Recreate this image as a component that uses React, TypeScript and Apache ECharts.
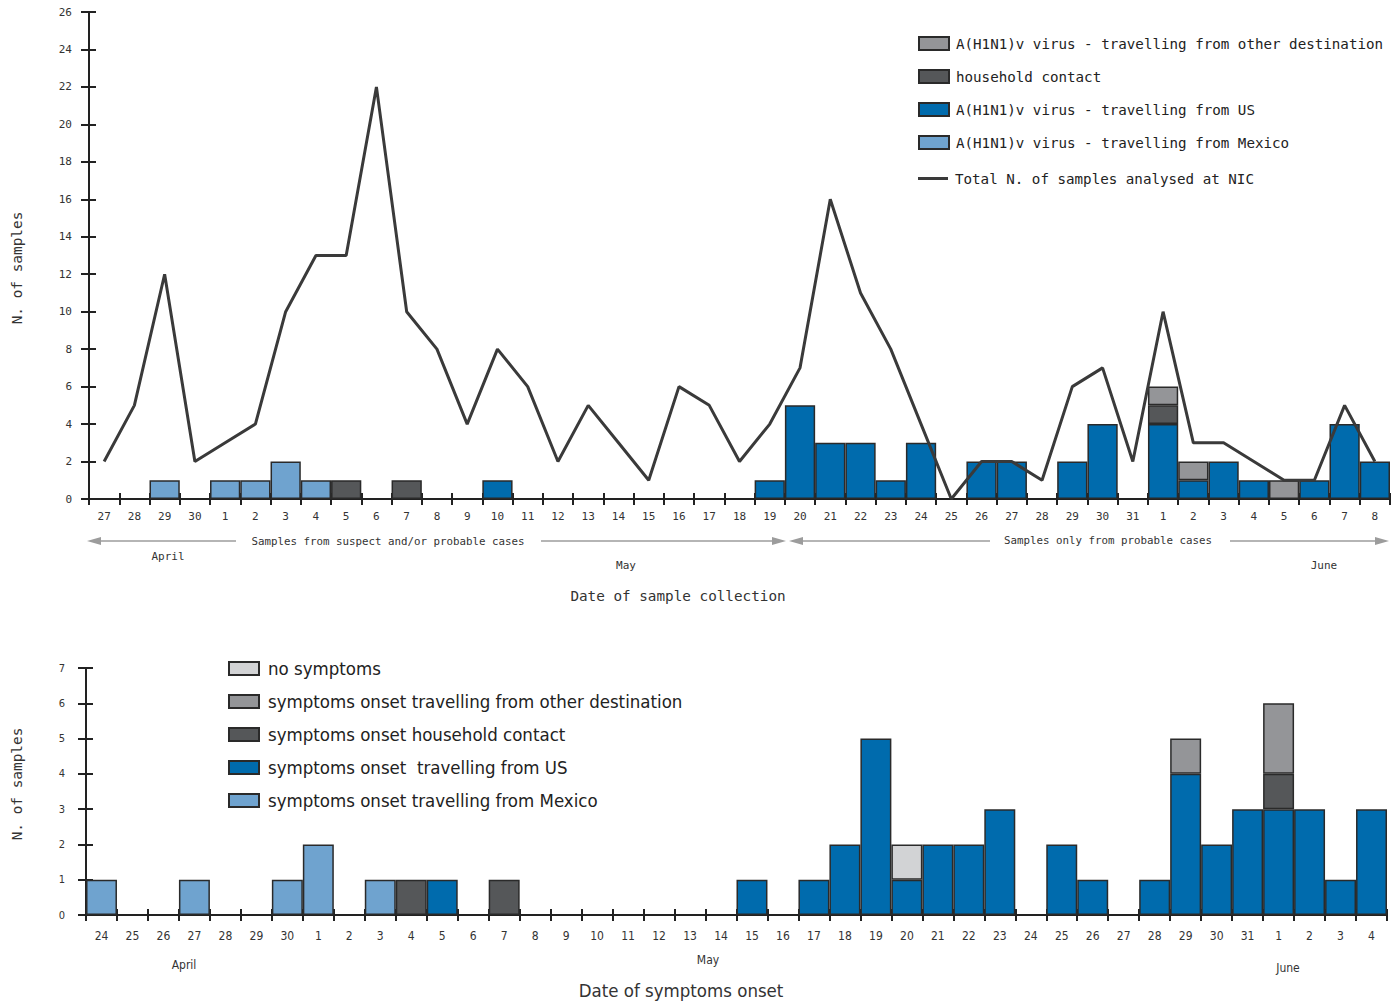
import React, { useEffect, useRef } from "react";
import * as echarts from "echarts";

// ---------- Top chart: date of sample collection ----------
const topCategories = [
  "27", "28", "29", "30",
  "1", "2", "3", "4", "5", "6", "7", "8", "9", "10", "11", "12", "13", "14", "15", "16",
  "17", "18", "19", "20", "21", "22", "23", "24", "25", "26", "27", "28", "29", "30", "31",
  "1", "2", "3", "4", "5", "6", "7", "8",
];
const topTotal = [2, 5, 12, 2, 3, 4, 10, 13, 13, 22, 10, 8, 4, 8, 6, 2, 5, 3, 1, 6, 5, 2, 4, 7, 16, 11, 8, 4, 0, 2, 2, 1, 6, 7, 2, 10, 3, 3, 2, 1, 1, 5, 2];
const topMexico = ["-", "-", 1, "-", 1, 1, 2, 1, "-", "-", "-", "-", "-", "-", "-", "-", "-", "-", "-", "-", "-", "-", "-", "-", "-", "-", "-", "-", "-", "-", "-", "-", "-", "-", "-", "-", "-", "-", "-", "-", "-", "-", "-"];
const topUS = ["-", "-", "-", "-", "-", "-", "-", "-", "-", "-", "-", "-", "-", 1, "-", "-", "-", "-", "-", "-", "-", "-", 1, 5, 3, 3, 1, 3, "-", 2, 2, "-", 2, 4, "-", 4, 1, 2, 1, "-", 1, 4, 2];
const topHousehold = ["-", "-", "-", "-", "-", "-", "-", "-", 1, "-", 1, "-", "-", "-", "-", "-", "-", "-", "-", "-", "-", "-", "-", "-", "-", "-", "-", "-", "-", "-", "-", "-", "-", "-", "-", 1, "-", "-", "-", "-", "-", "-", "-"];
const topOther = ["-", "-", "-", "-", "-", "-", "-", "-", "-", "-", "-", "-", "-", "-", "-", "-", "-", "-", "-", "-", "-", "-", "-", "-", "-", "-", "-", "-", "-", "-", "-", "-", "-", "-", "-", 1, 1, "-", "-", 1, "-", "-", "-"];

// ---------- Bottom chart: date of symptoms onset ----------
const bottomCategories = [
  "24", "25", "26", "27", "28", "29", "30",
  "1", "2", "3", "4", "5", "6", "7", "8", "9", "10", "11", "12", "13", "14", "15", "16",
  "17", "18", "19", "20", "21", "22", "23", "24", "25", "26", "27", "28", "29", "30", "31",
  "1", "2", "3", "4",
];
const botMexico = [1, "-", "-", 1, "-", "-", 1, 2, "-", 1, "-", "-", "-", "-", "-", "-", "-", "-", "-", "-", "-", "-", "-", "-", "-", "-", "-", "-", "-", "-", "-", "-", "-", "-", "-", "-", "-", "-", "-", "-", "-", "-"];
const botUS = ["-", "-", "-", "-", "-", "-", "-", "-", "-", "-", "-", 1, "-", "-", "-", "-", "-", "-", "-", "-", "-", 1, "-", 1, 2, 5, 1, 2, 2, 3, "-", 2, 1, "-", 1, 4, 2, 3, 3, 3, 1, 3];
const botHousehold = ["-", "-", "-", "-", "-", "-", "-", "-", "-", "-", 1, "-", "-", 1, "-", "-", "-", "-", "-", "-", "-", "-", "-", "-", "-", "-", "-", "-", "-", "-", "-", "-", "-", "-", "-", "-", "-", "-", 1, "-", "-", "-"];
const botOther = ["-", "-", "-", "-", "-", "-", "-", "-", "-", "-", "-", "-", "-", "-", "-", "-", "-", "-", "-", "-", "-", "-", "-", "-", "-", "-", "-", "-", "-", "-", "-", "-", "-", "-", "-", 1, "-", "-", 2, "-", "-", "-"];
const botNoSymptoms = ["-", "-", "-", "-", "-", "-", "-", "-", "-", "-", "-", "-", "-", "-", "-", "-", "-", "-", "-", "-", "-", "-", "-", "-", "-", "-", 1, "-", "-", "-", "-", "-", "-", "-", "-", "-", "-", "-", "-", "-", "-", "-"];

const C_MEXICO = "#6fa3cf";
const C_US = "#006bad";
const C_HOUSE = "#555759";
const C_OTHER = "#949598";
const C_NOSYM = "#d2d3d5";
const C_LINE = "#3a3a3a";
const BORDER = "#2a2a2a";
const TEXT = "#333333";
const ARROW = "#9c9c9c";

const MONO = "'DejaVu Sans Mono', monospace";
const COND = "'DejaVu Sans Condensed', 'DejaVu Sans', sans-serif";

const LINE_ICON = "path://M0,0L30,0L30,0.05L0,0.05Z M0,5L30,5L30,8L0,8Z M0,12.95L30,12.95L30,13L0,13Z";

function barSeries(name: string, data: any[], color: string, xi: number, yi: number, stack: string) {
  return {
    name,
    type: "bar",
    stack,
    data,
    xAxisIndex: xi,
    yAxisIndex: yi,
    barCategoryGap: "0%",
    barGap: "0%",
    itemStyle: { color, borderColor: BORDER, borderWidth: 1.5 },
    emphasis: { disabled: true },
  };
}

function makeAxes(cats: string[], grid: number, yMax: number, yInt: number, font: string, xMargin: number, yMargin: number, xFont: number) {
  const lineStyle = { color: "#222", width: 2 };
  const tickStyle = { color: "#222", width: 2 };
  const xAxes = [
    {
      type: "category", gridIndex: grid, data: cats, position: "bottom",
      axisLine: { show: true, lineStyle },
      axisTick: { show: true, inside: false, length: 6, lineStyle: tickStyle },
      axisLabel: { interval: 0, margin: xMargin, color: TEXT, fontFamily: font, fontSize: xFont },
      splitLine: { show: false },
    },
    {
      type: "category", gridIndex: grid, data: cats, position: "bottom",
      axisLine: { show: false },
      axisTick: { show: true, inside: true, length: 6, lineStyle: tickStyle },
      axisLabel: { show: false },
      splitLine: { show: false },
    },
  ];
  const yAxes = [
    {
      type: "value", gridIndex: grid, min: 0, max: yMax, interval: yInt, position: "left", offset: 0,
      axisLine: { show: true, lineStyle },
      axisTick: { show: true, inside: false, length: 8, lineStyle: tickStyle },
      axisLabel: { margin: yMargin, color: TEXT, fontFamily: font, fontSize: 11 },
      splitLine: { show: false },
    },
    {
      type: "value", gridIndex: grid, min: 0, max: yMax, interval: yInt, position: "left", offset: 0,
      axisLine: { show: false },
      axisTick: { show: true, inside: true, length: 7, lineStyle: tickStyle },
      axisLabel: { show: false },
      splitLine: { show: false },
    },
  ];
  return { xAxes, yAxes };
}

function txt(text: string, x: number, y: number, size: number, font: string, rotation = 0) {
  return {
    type: "text", x, y, rotation, silent: true,
    style: { text, fill: TEXT, fontSize: size, fontFamily: font, align: "center", verticalAlign: "middle" },
  };
}

function arrow(x1: number, x2: number, y: number, dir: "left" | "right") {
  const els: any[] = [];
  const headLen = 14;
  if (dir === "left") {
    els.push({ type: "line", silent: true, shape: { x1: x1 + headLen - 2, y1: y, x2, y2: y }, style: { stroke: ARROW, lineWidth: 1.5 } });
    els.push({ type: "polygon", silent: true, shape: { points: [[x1, y], [x1 + headLen, y - 4], [x1 + headLen, y + 4]] }, style: { fill: ARROW } });
  } else {
    els.push({ type: "line", silent: true, shape: { x1, y1: y, x2: x2 - headLen + 2, y2: y }, style: { stroke: ARROW, lineWidth: 1.5 } });
    els.push({ type: "polygon", silent: true, shape: { points: [[x2, y], [x2 - headLen, y - 4], [x2 - headLen, y + 4]] }, style: { fill: ARROW } });
  }
  return els;
}

export default function App() {
  const ref = useRef<HTMLDivElement>(null);

  useEffect(() => {
    document.body.style.margin = "0";
    if (!ref.current) return;
    const chart = echarts.init(ref.current, null, { renderer: "svg" });

    const top = makeAxes(topCategories, 0, 26, 2, MONO, 12, 17, 11);
    const bot = makeAxes(bottomCategories, 1, 7, 1, COND, 15, 21, 12);

    const topLegendBase = {
      orient: "vertical", left: 918, padding: 0, itemWidth: 30, itemHeight: 13, itemGap: 18,
      textStyle: { fontFamily: MONO, fontSize: 14.2, color: "#222", padding: [0, 0, 0, 2] },
    };

    const option: any = {
      animation: false,
      backgroundColor: "#ffffff",
      grid: [
        { left: 89, right: 10, top: 12, height: 487 },
        { left: 86, right: 13, top: 668, height: 247 },
      ],
      xAxis: [...top.xAxes, ...bot.xAxes],
      yAxis: [...top.yAxes, ...bot.yAxes],
      legend: [
        {
          ...topLegendBase, top: 36,
          data: [
            { name: "A(H1N1)v virus - travelling from other destination", icon: "rect" },
            { name: "household contact", icon: "rect" },
            { name: "A(H1N1)v virus - travelling from US", icon: "rect" },
            { name: "A(H1N1)v virus - travelling from Mexico", icon: "rect" },
          ],
        },
        {
          ...topLegendBase, top: 171.5,
          data: [
            { name: "Total N. of samples analysed at NIC", icon: LINE_ICON, itemStyle: { color: C_LINE, borderWidth: 0 } },
          ],
        },
        {
          orient: "vertical", left: 228, top: 659, padding: 0, itemWidth: 30, itemHeight: 13, itemGap: 14,
          textStyle: { fontFamily: COND, fontSize: 18.5, color: "#222", padding: [0, 0, 0, 4] },
          data: [
            { name: "no symptoms", icon: "rect" },
            { name: "symptoms onset travelling from other destination", icon: "rect" },
            { name: "symptoms onset household contact", icon: "rect" },
            { name: "symptoms onset  travelling from US", icon: "rect" },
            { name: "symptoms onset travelling from Mexico", icon: "rect" },
          ],
        },
      ],
      series: [
        barSeries("A(H1N1)v virus - travelling from Mexico", topMexico, C_MEXICO, 0, 0, "top"),
        barSeries("A(H1N1)v virus - travelling from US", topUS, C_US, 0, 0, "top"),
        barSeries("household contact", topHousehold, C_HOUSE, 0, 0, "top"),
        barSeries("A(H1N1)v virus - travelling from other destination", topOther, C_OTHER, 0, 0, "top"),
        {
          name: "Total N. of samples analysed at NIC",
          type: "line", data: topTotal, xAxisIndex: 0, yAxisIndex: 0,
          symbol: "none", lineStyle: { color: C_LINE, width: 3 }, itemStyle: { color: C_LINE },
          emphasis: { disabled: true }, z: 5,
        },
        barSeries("symptoms onset travelling from Mexico", botMexico, C_MEXICO, 2, 2, "bot"),
        barSeries("symptoms onset  travelling from US", botUS, C_US, 2, 2, "bot"),
        barSeries("symptoms onset household contact", botHousehold, C_HOUSE, 2, 2, "bot"),
        barSeries("symptoms onset travelling from other destination", botOther, C_OTHER, 2, 2, "bot"),
        barSeries("no symptoms", botNoSymptoms, C_NOSYM, 2, 2, "bot"),
      ],
      graphic: [
        // top chart annotations
        ...arrow(87, 236, 541, "left"),
        txt("Samples from suspect and/or probable cases", 388, 541, 10.8, MONO),
        ...arrow(541, 786, 541, "right"),
        ...arrow(789, 990, 541, "left"),
        txt("Samples only from probable cases", 1108, 540, 10.8, MONO),
        ...arrow(1230, 1389, 541, "right"),
        txt("April", 168, 556, 11, MONO),
        txt("May", 626, 565, 11, MONO),
        txt("June", 1324, 565, 11, MONO),
        txt("Date of sample collection", 678, 596, 14.3, MONO),
        txt("N. of samples", 17, 268, 14.4, MONO, Math.PI / 2),
        // bottom chart annotations
        txt("April", 184, 965, 12, COND),
        txt("May", 708, 960, 12, COND),
        txt("June", 1288, 968, 12, COND),
        txt("Date of symptoms onset", 681, 990, 18.5, COND),
        txt("N. of samples", 17, 784, 14.4, MONO, Math.PI / 2),
      ],
    };

    chart.setOption(option);
    return () => chart.dispose();
  }, []);

  return <div ref={ref} style={{ width: 1400, height: 1001 }} />;
}
